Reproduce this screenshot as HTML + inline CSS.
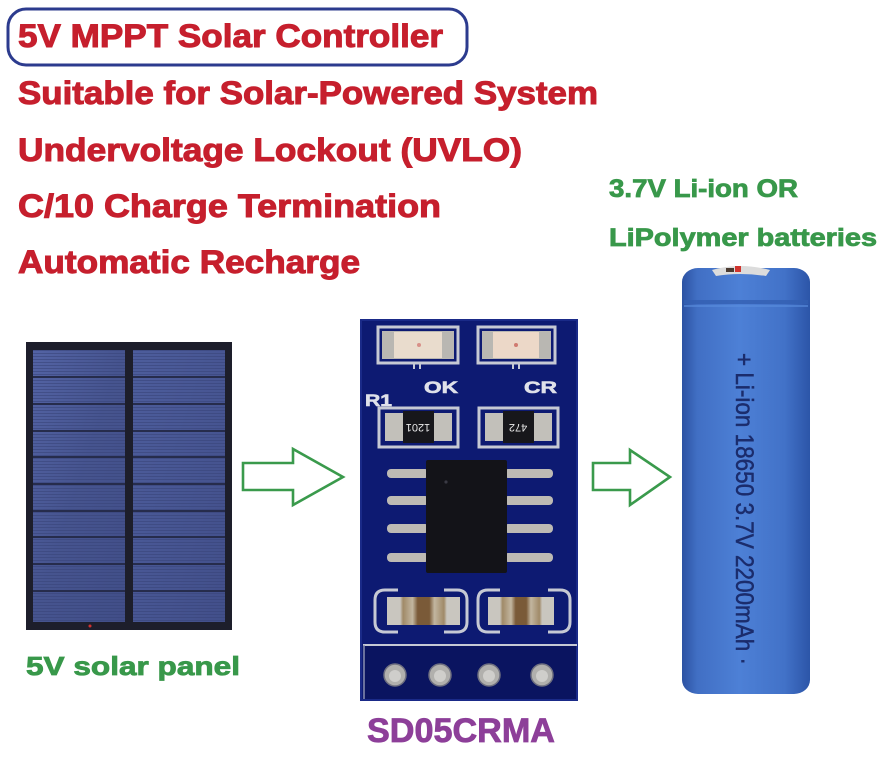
<!DOCTYPE html>
<html>
<head>
<meta charset="utf-8">
<style>
  html,body{margin:0;padding:0;background:#fff;}
  body{width:881px;height:760px;overflow:hidden;}
  svg{display:block;}
  .red{font-family:"Liberation Sans",sans-serif;font-weight:bold;fill:#c61f2d;stroke:#c61f2d;stroke-width:1;font-size:32px;}
  .grn{font-family:"Liberation Sans",sans-serif;font-weight:bold;fill:#38984a;stroke:#38984a;stroke-width:0.8;}
</style>
</head>
<body>
<svg width="881" height="760" viewBox="0 0 881 760" xmlns="http://www.w3.org/2000/svg">
  <defs>
    <linearGradient id="batt" x1="0" y1="0" x2="1" y2="0">
      <stop offset="0" stop-color="#2c52a2"/>
      <stop offset="0.12" stop-color="#416fc4"/>
      <stop offset="0.45" stop-color="#4d80d6"/>
      <stop offset="0.8" stop-color="#4272c8"/>
      <stop offset="1" stop-color="#2c55a8"/>
    </linearGradient>
    <linearGradient id="panelL" x1="0" y1="0" x2="1" y2="1">
      <stop offset="0" stop-color="#5363a4"/>
      <stop offset="0.5" stop-color="#46548f"/>
      <stop offset="1" stop-color="#414e88"/>
    </linearGradient>
    <linearGradient id="panelR" x1="0" y1="0" x2="1" y2="1">
      <stop offset="0" stop-color="#4d5d9c"/>
      <stop offset="1" stop-color="#424f8a"/>
    </linearGradient>
    <pattern id="stripes" x="0" y="350" width="10" height="3" patternUnits="userSpaceOnUse">
      <rect x="0" y="0" width="10" height="1" fill="#38447a" opacity="0.6"/>
    </pattern>
    <linearGradient id="cap" x1="0" y1="0" x2="1" y2="0">
      <stop offset="0" stop-color="#c9c6bf"/>
      <stop offset="0.18" stop-color="#c9c6bf"/>
      <stop offset="0.22" stop-color="#a08a68"/>
      <stop offset="0.35" stop-color="#c2b6a0"/>
      <stop offset="0.42" stop-color="#7a5a38"/>
      <stop offset="0.58" stop-color="#7a5a38"/>
      <stop offset="0.65" stop-color="#c2b6a0"/>
      <stop offset="0.78" stop-color="#a08a68"/>
      <stop offset="0.82" stop-color="#c9c6bf"/>
      <stop offset="1" stop-color="#c9c6bf"/>
    </linearGradient>
  </defs>

  <rect width="881" height="760" fill="#fff"/>

  <!-- Title box -->
  <rect x="8" y="9" width="459" height="56" rx="18" ry="18" fill="none" stroke="#2c3b8e" stroke-width="3"/>

  <!-- Red feature list -->
  <text class="red" x="18" y="47" textLength="425" lengthAdjust="spacingAndGlyphs">5V MPPT Solar Controller</text>
  <text class="red" x="18" y="104" textLength="580" lengthAdjust="spacingAndGlyphs">Suitable for Solar-Powered System</text>
  <text class="red" x="18" y="161" textLength="504" lengthAdjust="spacingAndGlyphs">Undervoltage Lockout (UVLO)</text>
  <text class="red" x="18" y="217" textLength="423" lengthAdjust="spacingAndGlyphs">C/10 Charge Termination</text>
  <text class="red" x="18" y="273" textLength="342" lengthAdjust="spacingAndGlyphs">Automatic Recharge</text>

  <!-- Green battery text -->
  <text class="grn" x="609" y="197" font-size="25" textLength="189" lengthAdjust="spacingAndGlyphs">3.7V Li-ion OR</text>
  <text class="grn" x="609" y="246" font-size="25" textLength="268" lengthAdjust="spacingAndGlyphs">LiPolymer batteries</text>

  <!-- Solar panel -->
  <rect x="26" y="342" width="206" height="288" fill="#1d1e2b"/>
  <rect x="33" y="350" width="92" height="272" fill="url(#panelL)"/>
  <rect x="133" y="350" width="92" height="272" fill="url(#panelR)"/>
  <rect x="33" y="350" width="92" height="272" fill="url(#stripes)"/>
  <rect x="133" y="350" width="92" height="272" fill="url(#stripes)"/>
  <g fill="#262c4c">
    <rect x="33" y="376" width="192" height="2"/>
    <rect x="33" y="403" width="192" height="2"/>
    <rect x="33" y="430" width="192" height="2"/>
    <rect x="33" y="456" width="192" height="2"/>
    <rect x="33" y="483" width="192" height="2"/>
    <rect x="33" y="510" width="192" height="2"/>
    <rect x="33" y="536" width="192" height="2"/>
    <rect x="33" y="563" width="192" height="2"/>
    <rect x="33" y="590" width="192" height="2"/>
  </g>
  <rect x="125" y="342" width="8" height="288" fill="#1d1e2b"/>
  <circle cx="90" cy="626" r="1.5" fill="#d03030"/>

  <text class="grn" x="26" y="675" font-size="26" textLength="214" lengthAdjust="spacingAndGlyphs">5V solar panel</text>

  <!-- Arrow 1 -->
  <polygon points="243,463 293,463 293,449 343,477 293,505 293,490 243,490" fill="#fff" stroke="#3a9a4c" stroke-width="2.6" stroke-linejoin="miter"/>
  <!-- Arrow 2 -->
  <polygon points="593,463 630,463 630,450 670,477 630,505 630,490 593,490" fill="#fff" stroke="#3a9a4c" stroke-width="2.6" stroke-linejoin="miter"/>

  <!-- PCB -->
  <rect x="361" y="320" width="216" height="380" fill="#0d1a72"/>
  <rect x="361" y="320" width="216" height="380" fill="none" stroke="#1a2a88" stroke-width="2"/>

  <g stroke="#c6c9d4" stroke-width="3" fill="none">
    <rect x="378" y="327" width="80" height="36"/>
    <rect x="478" y="327" width="77" height="36"/>
    <rect x="379" y="408" width="79" height="39"/>
    <rect x="479" y="408" width="79" height="39"/>
    <path d="M398 590 H385 Q375 590 375 600 V622 Q375 632 385 632 H398"/>
    <path d="M444 590 H457 Q467 590 467 600 V622 Q467 632 457 632 H444"/>
    <path d="M500 590 H488 Q478 590 478 600 V622 Q478 632 488 632 H500"/>
    <path d="M548 590 H560 Q570 590 570 600 V622 Q570 632 560 632 H548"/>
  </g>
  <g stroke="#c6c9d4" stroke-width="2">
    <line x1="414" y1="363" x2="414" y2="369"/><line x1="420" y1="363" x2="420" y2="369"/>
    <line x1="513" y1="363" x2="513" y2="369"/><line x1="519" y1="363" x2="519" y2="369"/>
  </g>

  <!-- LEDs -->
  <rect x="382" y="331" width="72" height="28" fill="#b9b7b2"/>
  <rect x="394" y="332" width="48" height="26" fill="#e9dccd"/>
  <circle cx="419" cy="345" r="2" fill="#d89088"/>
  <rect x="482" y="331" width="69" height="28" fill="#b9b7b2"/>
  <rect x="493" y="332" width="46" height="26" fill="#ecd8c8"/>
  <circle cx="516" cy="345" r="2" fill="#d07a70"/>

  <!-- Silkscreen labels -->
  <g font-family="Liberation Sans, sans-serif" font-weight="bold" fill="#dfe1ea" stroke="#dfe1ea" stroke-width="0.6" font-size="17">
    <text x="424" y="393" textLength="34" lengthAdjust="spacingAndGlyphs">OK</text>
    <text x="524" y="393" textLength="33" lengthAdjust="spacingAndGlyphs">CR</text>
    <text x="365" y="406" textLength="27" lengthAdjust="spacingAndGlyphs">R1</text>
  </g>

  <!-- Resistors -->
  <rect x="385" y="413" width="20" height="28" fill="#c2c0ba"/>
  <rect x="432" y="413" width="20" height="28" fill="#c2c0ba"/>
  <rect x="403" y="411" width="31" height="32" fill="#17171b"/>
  <text x="418" y="427" font-family="Liberation Sans, sans-serif" font-size="11" fill="#e8e8e8" text-anchor="middle" dominant-baseline="middle" transform="rotate(180 418 427)">1201</text>
  <rect x="485" y="413" width="20" height="28" fill="#c2c0ba"/>
  <rect x="532" y="413" width="20" height="28" fill="#c2c0ba"/>
  <rect x="503" y="411" width="31" height="32" fill="#17171b"/>
  <text x="518" y="427" font-family="Liberation Sans, sans-serif" font-size="11" fill="#e8e8e8" text-anchor="middle" dominant-baseline="middle" transform="rotate(180 518 427)">472</text>

  <!-- IC pins -->
  <g fill="#bdbab4">
    <rect x="387" y="469" width="42" height="9" rx="4"/>
    <rect x="387" y="496" width="42" height="9" rx="4"/>
    <rect x="387" y="524" width="42" height="9" rx="4"/>
    <rect x="387" y="553" width="42" height="9" rx="4"/>
    <rect x="504" y="469" width="49" height="9" rx="4"/>
    <rect x="504" y="496" width="49" height="9" rx="4"/>
    <rect x="504" y="524" width="49" height="9" rx="4"/>
    <rect x="504" y="553" width="49" height="9" rx="4"/>
  </g>
  <rect x="426" y="460" width="81" height="113" rx="2" fill="#131318"/>
  <circle cx="446" cy="482" r="1.6" fill="#3a3a44"/>

  <!-- Capacitors -->
  <rect x="387" y="597" width="73" height="28" fill="url(#cap)"/>
  <rect x="488" y="597" width="66" height="28" fill="url(#cap)"/>

  <!-- Header -->
  <rect x="364" y="646" width="212" height="53" fill="#0a1460"/>
  <line x1="363" y1="645" x2="577" y2="645" stroke="#c6c9d4" stroke-width="2"/>
  <line x1="364" y1="645" x2="364" y2="699" stroke="#8a90b0" stroke-width="1.5"/>
  <g fill="#b1b0ad" stroke="#6f7080" stroke-width="1.5">
    <circle cx="395" cy="675" r="11"/>
    <circle cx="440" cy="675" r="11"/>
    <circle cx="489" cy="675" r="11"/>
    <circle cx="542" cy="675" r="11"/>
  </g>
  <g fill="#cfcecb">
    <circle cx="395" cy="676" r="6"/>
    <circle cx="440" cy="676" r="6"/>
    <circle cx="489" cy="676" r="6"/>
    <circle cx="542" cy="676" r="6"/>
  </g>

  <text x="367" y="742" font-family="Liberation Sans, sans-serif" font-weight="bold" font-size="34" fill="#8d3f99" stroke="#8d3f99" stroke-width="0.8" textLength="188" lengthAdjust="spacingAndGlyphs">SD05CRMA</text>

  <!-- Battery -->
  <rect x="682" y="268" width="128" height="426" rx="16" ry="14" fill="url(#batt)"/>
  <rect x="684" y="300" width="124" height="4" fill="#335fb2" opacity="0.8"/>
  <rect x="684" y="305" width="124" height="2" fill="#5a8ede" opacity="0.6"/>
  <path d="M712 270 Q740 262 770 270 L766 276 Q740 272 716 276 Z" fill="#dcdcdc"/>
  <rect x="735" y="266" width="6" height="6" fill="#d0342e"/>
  <rect x="726" y="268" width="8" height="4" fill="#4a3a30"/>

  <text transform="translate(736 353) rotate(90)" font-family="Liberation Sans, sans-serif" font-size="25" fill="#1b2c6c" stroke="#1b2c6c" stroke-width="0.5" textLength="312" lengthAdjust="spacingAndGlyphs">+ Li-ion 18650 3.7V 2200mAh ·</text>
</svg>
</body>
</html>
